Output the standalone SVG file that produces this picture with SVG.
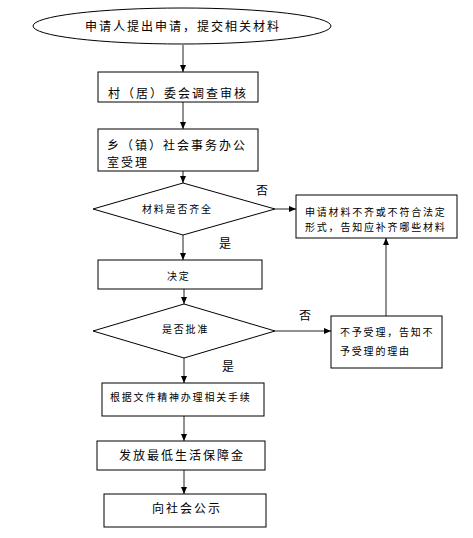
<svg xmlns="http://www.w3.org/2000/svg" width="473" height="538" viewBox="0 0 473 538">
<style>
.s{fill:#fff;stroke:#000;stroke-width:1}
.t{font-family:"Noto Sans CJK SC","Noto Sans",sans-serif;fill:#000}
.l{font-size:12px;letter-spacing:2px}
.m{font-size:10px;letter-spacing:1.8px}
.c{stroke:#222;stroke-width:1;fill:none;marker-end:url(#a)}
</style>
<defs>
<marker id="a" markerWidth="7" markerHeight="7" refX="7" refY="3.5" orient="auto" markerUnits="userSpaceOnUse">
<path d="M0,0.5 L7,3.5 L0,6.5 z" fill="#000"/>
</marker>
</defs>
<rect width="473" height="538" fill="#fff"/>
<g id="connectors">
<line class="c" x1="183" y1="45" x2="183" y2="72"/>
<line class="c" x1="183" y1="102" x2="183" y2="129"/>
<line class="c" x1="183" y1="171" x2="183" y2="183"/>
<line class="c" x1="183" y1="235" x2="183" y2="260"/>
<line class="c" x1="184" y1="289" x2="184" y2="304"/>
<line class="c" x1="184" y1="358" x2="184" y2="383"/>
<line class="c" x1="184" y1="416" x2="184" y2="441"/>
<line class="c" x1="184" y1="470" x2="184" y2="494"/>
<line class="c" x1="275" y1="209" x2="296" y2="209"/>
<line class="c" x1="275" y1="331" x2="331" y2="331"/>
<line class="c" x1="386" y1="316" x2="386" y2="238"/>
<text class="t l" x="256" y="195">否</text>
<text class="t l" x="219" y="248">是</text>
<text class="t l" x="299" y="320">否</text>
<text class="t l" x="222" y="371">是</text>
</g>
<g id="start">
<ellipse class="s" cx="182" cy="26" rx="149" ry="18"/>
<text class="t l" x="85" y="31">申请人提出申请，提交相关材料</text>
</g>
<g id="village">
<rect class="s" x="98" y="72" width="160" height="30"/>
<text class="t l" x="108" y="98">村（居）委会调查审核</text>
</g>
<g id="township">
<rect class="s" x="98" y="129" width="160" height="42"/>
<text class="t l" x="107" y="150">乡（镇）社会事务办公</text>
<text class="t l" x="107" y="167">室受理</text>
</g>
<g id="check">
<polygon class="s" points="93,209 183,183 275,209 183,235"/>
<text class="t m" x="142" y="213">材料是否齐全</text>
</g>
<g id="incomplete">
<rect class="s" x="296" y="195" width="161" height="43"/>
<text class="t m" x="305" y="216">申请材料不齐或不符合法定</text>
<text class="t m" x="305" y="231">形式，告知应补齐哪些材料</text>
</g>
<g id="decide">
<rect class="s" x="98" y="260" width="164" height="29"/>
<text class="t m" x="167" y="280">决定</text>
</g>
<g id="approve">
<polygon class="s" points="93,331 184,304 275,331 184,358"/>
<text class="t m" x="162" y="333">是否批准</text>
</g>
<g id="reject">
<rect class="s" x="331" y="316" width="111" height="52"/>
<text class="t m" x="340" y="336">不予受理，告知不</text>
<text class="t m" x="340" y="355">予受理的理由</text>
</g>
<g id="procedure">
<rect class="s" x="102" y="383" width="162" height="33"/>
<text class="t m" x="110" y="401">根据文件精神办理相关手续</text>
</g>
<g id="issue">
<rect class="s" x="97" y="441" width="168" height="29"/>
<text class="t l" x="119" y="460">发放最低生活保障金</text>
</g>
<g id="publish">
<rect class="s" x="104" y="494" width="162" height="33"/>
<text class="t l" x="152" y="513">向社会公示</text>
</g>
</svg>
